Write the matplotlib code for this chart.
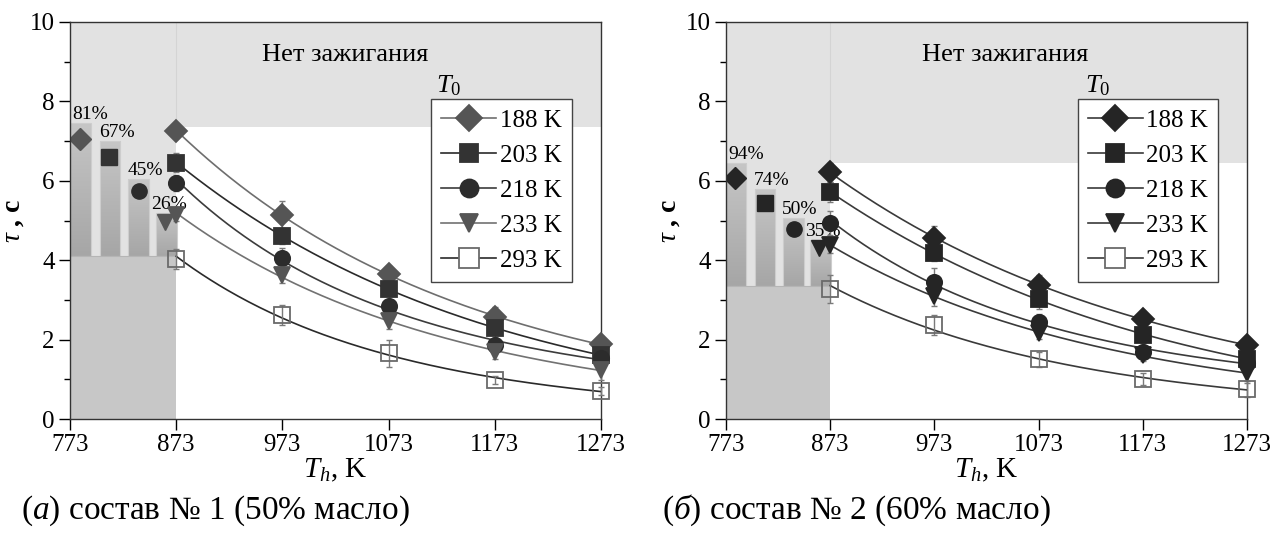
import numpy as np
import matplotlib
matplotlib.use("Agg")
import matplotlib.pyplot as plt
from matplotlib.ticker import MultipleLocator
from matplotlib.colors import LinearSegmentedColormap

plt.rcParams["font.family"] = ["Liberation Serif", "DejaVu Serif"]
plt.rcParams["mathtext.fontset"] = "custom"
plt.rcParams["mathtext.rm"] = "Liberation Serif"
plt.rcParams["mathtext.it"] = "Liberation Serif:italic"
plt.rcParams["mathtext.bf"] = "Liberation Serif:bold"

# heater temperature, K
Th = [873, 973, 1073, 1173, 1273]
T0_labels = ["188 K", "203 K", "218 K", "233 K", "293 K"]

# composition 1 (50% oil): ignition delay, s
tau_a = [
    [7.25, 5.14, 3.65, 2.57, 1.88],
    [6.46, 4.61, 3.27, 2.29, 1.61],
    [5.95, 4.05, 2.85, 1.86, 1.53],
    [5.15, 3.62, 2.47, 1.70, 1.23],
    [4.02, 2.62, 1.65, 0.98, 0.71],
]
err_a = [
    [0.15, 0.35, 0.20, 0.25, 0.20],
    [0.25, 0.20, 0.25, 0.30, 0.25],
    [0.20, 0.25, 0.25, 0.20, 0.15],
    [0.15, 0.20, 0.20, 0.20, 0.25],
    [0.25, 0.25, 0.35, 0.10, 0.10],
]
# composition 2 (60% oil)
tau_b = [
    [6.21, 4.57, 3.38, 2.51, 1.86],
    [5.71, 4.17, 3.02, 2.12, 1.52],
    [4.94, 3.46, 2.45, 1.70, 1.42],
    [4.38, 3.10, 2.16, 1.61, 1.15],
    [3.27, 2.37, 1.50, 1.00, 0.75],
]
err_b = [
    [0.25, 0.30, 0.25, 0.20, 0.20],
    [0.25, 0.20, 0.25, 0.20, 0.25],
    [0.30, 0.35, 0.20, 0.15, 0.20],
    [0.20, 0.25, 0.15, 0.15, 0.25],
    [0.35, 0.25, 0.20, 0.15, 0.20],
]

# ignition probability bars below 873 K
bar_left = [773, 801, 828, 854]
bar_width = 19.5
bar_top_a = [7.45, 7.00, 6.05, 5.20]
bar_top_b = [6.45, 5.80, 5.07, 4.50]
bar_base_a = 4.1
bar_base_b = 3.35
bar_mark_x = [782, 810, 838, 862]
bar_mark_a = [7.05, 6.60, 5.75, 4.95]
bar_mark_b = [6.07, 5.45, 4.78, 4.30]
pct_a = ["81%", "67%", "45%", "26%"]
pct_b = ["94%", "74%", "50%", "35%"]

# upper boundary of the ignition zone
no_ign_a = 7.35
no_ign_b = 6.45

markers = ["D", "s", "o", "v", "s"]
msizes = [11, 11, 11, 11, 12]

bar_cmap = LinearSegmentedColormap.from_list("bar", ["#c6c6c6", "#a6a6a6"])


def draw_panel(ax, tau, err, bar_top, bar_base, bar_mark, pct, no_ign,
               line_cols, face_cols, title_x):
    light = "#e2e2e2"
    # no-ignition zone and the low-temperature strip
    ax.axhspan(no_ign, 10, xmin=0.2, xmax=1, color=light, lw=0, zorder=0)
    ax.fill_between([773, 873], bar_base, 10, color=light, lw=0, zorder=0)
    ax.fill_between([773, 873], 0, bar_base, color="#c7c7c7", lw=0, zorder=0.5)
    ax.plot([873, 873], [no_ign, 10], color="#d4d4d4", lw=0.8, zorder=0.6)
    ax.plot([773, 873], [bar_base, bar_base], color="#b5b5b5", lw=0.8,
            zorder=1.3)

    # gradient bars
    grad = np.linspace(0, 1, 100).reshape(-1, 1)
    for i in range(len(bar_left)):
        b = ax.bar(bar_left[i], bar_top[i] - bar_base, bottom=bar_base,
                   width=bar_width, align="edge", color="none",
                   edgecolor="#cdcdcd", lw=0.8, zorder=1.2)[0]
        im = ax.imshow(grad, cmap=bar_cmap, vmin=0, vmax=1,
                       extent=[bar_left[i], bar_left[i] + bar_width,
                               bar_base, bar_top[i]],
                       origin="upper", aspect="auto", zorder=1)
        im.set_clip_path(b)
        ax.plot(bar_mark_x[i], bar_mark[i], marker=markers[i], ms=msizes[i],
                color=face_cols[i], mec=face_cols[i], ls="none", zorder=2)
        ax.text(bar_left[i] + (2 if i == 0 else -1 if i < 3 else -5),
                bar_top[i] + 0.0, pct[i], fontsize=14, ha="left",
                va="bottom", zorder=3)

    xs = np.linspace(873, 1273, 200)
    handles = []
    for k in range(5):
        coef = np.polyfit(Th, np.log(tau[k]), 2)
        ax.plot(xs, np.exp(np.polyval(coef, xs)), color=line_cols[k], lw=1.2,
                zorder=3)
        ax.errorbar(Th, tau[k], yerr=err[k], fmt="none", ecolor="#7a7a7a",
                    elinewidth=1, capsize=2.5, zorder=4, clip_on=False)
        if k == 4:
            mfc, mec = "none", "#6a6a6a"
        else:
            mfc, mec = face_cols[k], face_cols[k]
        ax.plot(Th, tau[k], marker=markers[k], ms=msizes[k], mfc=mfc, mec=mec,
                mew=1.3, ls="none", zorder=5, clip_on=False)
        h, = ax.plot([], [], marker=markers[k], ms=msizes[k] + 2,
                     mfc="white" if k == 4 else face_cols[k], mec=mec,
                     mew=1.3, color=line_cols[k], lw=1.2)
        handles.append(h)

    leg = ax.legend(handles, T0_labels, loc="upper right",
                    bbox_to_anchor=(0.945, 0.806), borderaxespad=0,
                    fontsize=18, frameon=True, fancybox=False,
                    edgecolor="#444444", framealpha=1, handlelength=2.2,
                    handletextpad=0.15, labelspacing=0.5, borderpad=0.4)
    leg.get_frame().set_linewidth(1.0)
    leg.set_zorder(6)
    ax.text(0.69, 0.808, "$T_0$", transform=ax.transAxes, fontsize=19,
            ha="left", va="bottom", zorder=6)
    ax.text(title_x, 0.917, "Нет зажигания", transform=ax.transAxes,
            fontsize=19, ha="center", va="center", zorder=6)

    ax.set_xlim(773, 1273)
    ax.set_ylim(0, 10)
    ax.set_xticks([773, 873, 973, 1073, 1173, 1273])
    ax.yaxis.set_major_locator(MultipleLocator(2))
    ax.yaxis.set_minor_locator(MultipleLocator(1))
    ax.tick_params(axis="both", which="major", direction="out", length=8,
                   width=1, labelsize=18, top=False, right=False, pad=3)
    ax.tick_params(axis="y", which="minor", direction="out", length=4,
                   width=1, right=False)
    for s in ax.spines.values():
        s.set_linewidth(1.0)
        s.set_color("#333333")
    ax.set_xlabel("$T_h$, K", fontsize=21, labelpad=0)
    ax.set_ylabel(r"$\tau$ , с", fontsize=20, labelpad=3, fontweight="bold")


fig = plt.figure(figsize=(12.78, 5.40), dpi=100)
ax1 = fig.add_axes([70 / 1278, 121 / 540, 531 / 1278, 397 / 540])
ax2 = fig.add_axes([726 / 1278, 121 / 540, 521 / 1278, 397 / 540])

draw_panel(ax1, tau_a, err_a, bar_top_a, bar_base_a, bar_mark_a, pct_a,
           no_ign_a,
           ["#6e6e6e", "#2a2a2a", "#3c3c3c", "#727272", "#2a2a2a"],
           ["#555555", "#333333", "#2c2c2c", "#555555"], 0.518)
draw_panel(ax2, tau_b, err_b, bar_top_b, bar_base_b, bar_mark_b, pct_b,
           no_ign_b,
           ["#3a3a3a", "#3a3a3a", "#3a3a3a", "#3a3a3a", "#3a3a3a"],
           ["#252525", "#252525", "#252525", "#252525"], 0.535)

fig.text(215 / 1278, 0.055, r"($\mathit{а}$) состав № 1 (50% масло)",
         fontsize=24, ha="center", va="center")
fig.text(856 / 1278, 0.055, r"($\mathit{б}$) состав № 2 (60% масло)",
         fontsize=24, ha="center", va="center")

fig.savefig("out.png", dpi=100)
